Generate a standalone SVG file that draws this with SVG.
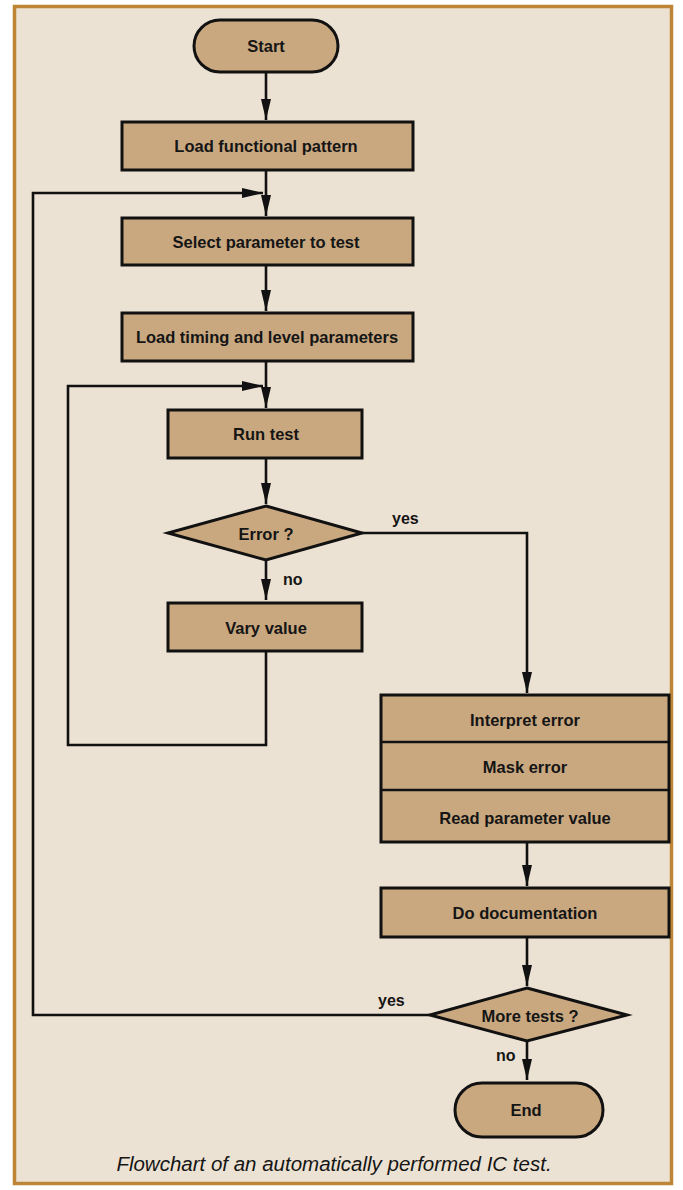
<svg xmlns="http://www.w3.org/2000/svg" width="683" height="1190" viewBox="0 0 683 1190">
<defs>
<style>
.box{fill:#c9a880;stroke:#111;stroke-width:3}
.t{font-family:"Liberation Sans",Arial,sans-serif;font-weight:bold;font-size:16.5px;fill:#151515;text-anchor:middle;dominant-baseline:central}
.lbl{font-family:"Liberation Sans",Arial,sans-serif;font-weight:bold;font-size:16px;fill:#151515;dominant-baseline:central}
.c{fill:none;stroke:#111;stroke-width:2.6}
.cap{font-family:"Liberation Sans",Arial,sans-serif;font-style:italic;font-size:20.5px;fill:#151515;text-anchor:middle}
</style>
<marker id="ah" markerUnits="userSpaceOnUse" markerWidth="22" markerHeight="11" refX="21" refY="5.5" orient="auto">
<path d="M0,0.5 L21,5.5 L0,10.5 z" fill="#111"/>
</marker>
</defs>
<rect x="0" y="0" width="683" height="1190" fill="#ffffff"/>
<rect x="14.5" y="6.5" width="657" height="1177" fill="#ece2d3" stroke="#bd8636" stroke-width="3.5"/>

<g id="connectors">
<path class="c" d="M266,73 V120" marker-end="url(#ah)"/>
<path class="c" d="M266,170 V216" marker-end="url(#ah)"/>
<path class="c" d="M266,265 V311" marker-end="url(#ah)"/>
<path class="c" d="M266,361 V408" marker-end="url(#ah)"/>
<path class="c" d="M266,458 V504" marker-end="url(#ah)"/>
<path class="c" d="M266,560 V600" marker-end="url(#ah)"/>
<path class="c" d="M266,651 V745 H68 V386 H263" marker-end="url(#ah)"/>
<path class="c" d="M362,533 H527 V693" marker-end="url(#ah)"/>
<path class="c" d="M527,842 V886" marker-end="url(#ah)"/>
<path class="c" d="M527,937 V986" marker-end="url(#ah)"/>
<path class="c" d="M527,1041 V1080" marker-end="url(#ah)"/>
<path class="c" d="M430,1015 H33 V193 H263" marker-end="url(#ah)"/>
</g>

<g id="start">
<rect class="box" x="194" y="20" width="144" height="52" rx="26" ry="26"/>
<text class="t" x="266" y="46">Start</text>
</g>
<g id="load-functional">
<rect class="box" x="122" y="122" width="291" height="48"/>
<text class="t" x="266" y="146">Load functional pattern</text>
</g>
<g id="select-param">
<rect class="box" x="122" y="218" width="291" height="47"/>
<text class="t" x="266" y="242">Select parameter to test</text>
</g>
<g id="load-timing">
<rect class="box" x="122" y="313" width="291" height="48"/>
<text class="t" x="267" y="337">Load timing and level parameters</text>
</g>
<g id="run-test">
<rect class="box" x="168" y="410" width="194" height="48"/>
<text class="t" x="266" y="434">Run test</text>
</g>
<g id="error">
<polygon class="box" points="266,506 362,533 266,560 168,533"/>
<text class="t" x="266" y="534">Error ?</text>
<text class="lbl" x="392" y="518">yes</text>
<text class="lbl" x="283" y="579">no</text>
</g>
<g id="vary">
<rect class="box" x="168" y="603" width="194" height="48"/>
<text class="t" x="266" y="628">Vary value</text>
</g>
<g id="error-stack">
<rect class="box" x="381" y="695" width="288" height="147"/>
<line x1="381" y1="742" x2="669" y2="742" stroke="#111" stroke-width="2.6"/>
<line x1="381" y1="790" x2="669" y2="790" stroke="#111" stroke-width="2.6"/>
<text class="t" x="525" y="720">Interpret error</text>
<text class="t" x="525" y="767">Mask error</text>
<text class="t" x="525" y="818">Read parameter value</text>
</g>
<g id="documentation">
<rect class="box" x="381" y="888" width="288" height="49"/>
<text class="t" x="525" y="913">Do documentation</text>
</g>
<g id="more-tests">
<polygon class="box" points="527,988 627,1015 527,1041 430,1015"/>
<text class="t" x="530" y="1016">More tests ?</text>
<text class="lbl" x="378" y="1000">yes</text>
<text class="lbl" x="496" y="1055">no</text>
</g>
<g id="end">
<rect class="box" x="455" y="1083" width="148" height="54" rx="27" ry="27"/>
<text class="t" x="526" y="1110">End</text>
</g>
<text class="cap" x="334" y="1171">Flowchart of an automatically performed IC test.</text>
</svg>
